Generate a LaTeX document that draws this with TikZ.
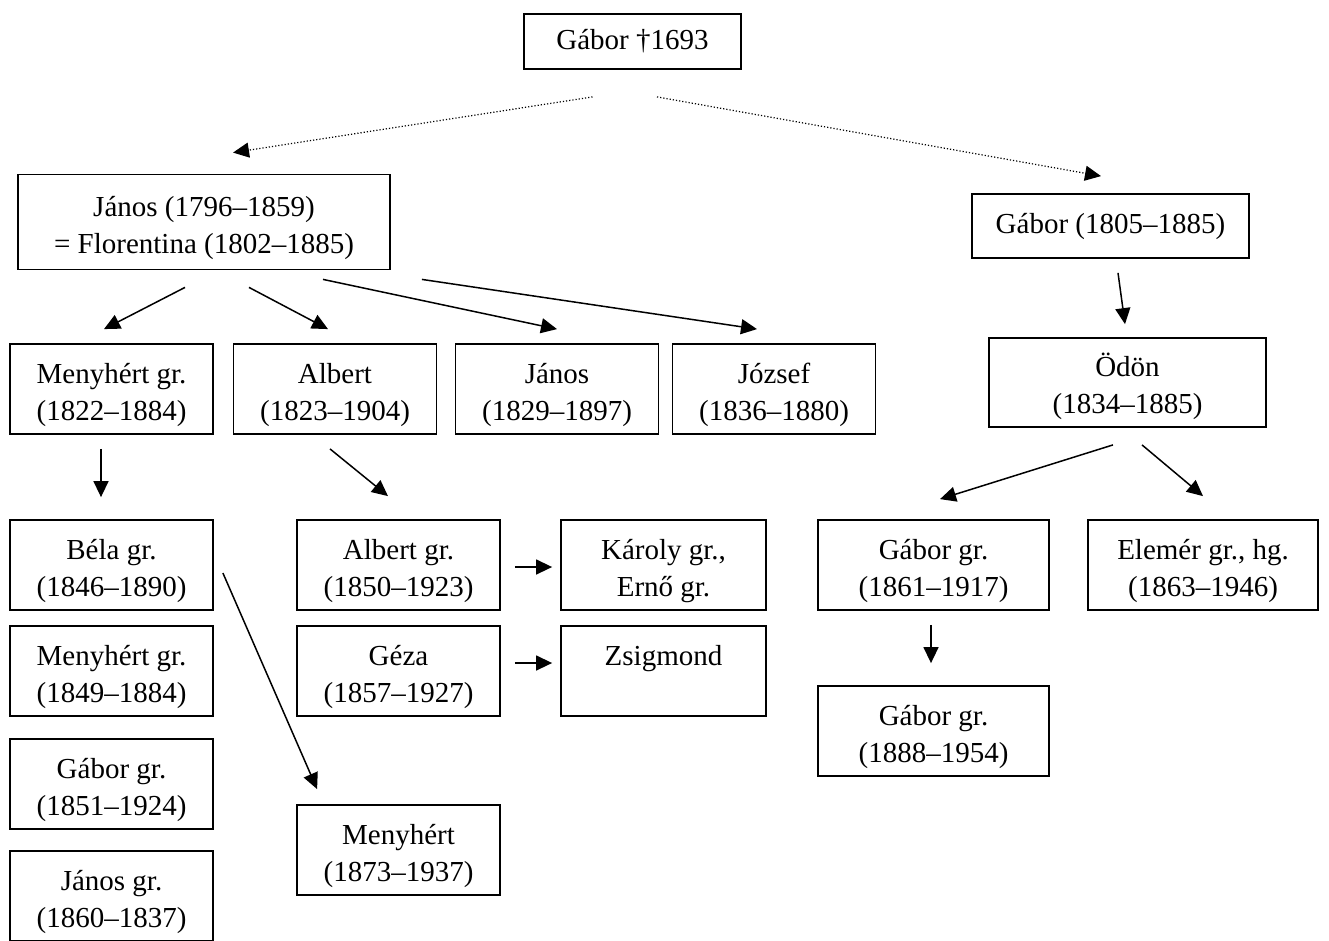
\documentclass[tikz,border=0pt]{standalone}
\usepackage{fontspec}
\setmainfont{Liberation Serif}
\usetikzlibrary{arrows.meta}
\tikzset{
  person/.style={draw, line width=1.8pt, align=center, inner sep=0pt,
    minimum width=203, minimum height=90, font=\fontsize{29}{37}\selectfont},
  pair/.style={person, text height=62pt, text depth=0pt},
  child/.style={line width=1.5pt, -{Triangle[length=16pt,width=15pt]}},
  branch/.style={line width=1.2pt, dotted, -{Triangle[length=16pt,width=15pt]}}
}

\begin{document}
\begin{tikzpicture}[x=1pt, y=-1pt]
\useasboundingbox (0,0) rectangle (1329,940);
% Ancestor and sons
    \node[person, minimum width=217, minimum height=55] (top) at (632.5,41.5) {Gábor †1693};
    \node[pair, minimum width=372, minimum height=95] (janos) at (204,222) {János (1796–1859)\\= Florentina (1802–1885)};
    \node[person, minimum width=277, minimum height=64] (gabor2) at (1110.5,226) {Gábor (1805–1885)};
% Grandsons
    \node[pair] (menyhert) at (111.5,389) {Menyhért gr.\\(1822–1884)};
    \node[pair] (albert) at (335,389) {Albert\\(1823–1904)};
    \node[pair] (janos2) at (557,389) {János\\(1829–1897)};
    \node[pair] (jozsef) at (774,389) {József\\(1836–1880)};
    \node[pair, minimum width=277, minimum height=89] (odon) at (1127.5,382.5) {Ödön\\(1834–1885)};
% Great-grandsons
    \node[pair] (bela) at (111.5,565) {Béla gr.\\(1846–1890)};
    \node[pair] (menyhert2) at (111.5,671) {Menyhért gr.\\(1849–1884)};
    \node[pair] (gabor3) at (111.5,784) {Gábor gr.\\(1851–1924)};
    \node[pair] (janos3) at (111.5,896) {János gr.\\(1860–1837)};
    \node[pair] (albert2) at (398.5,565) {Albert gr.\\(1850–1923)};
    \node[pair] (geza) at (398.5,671) {Géza\\(1857–1927)};
    \node[pair, minimum width=205] (karoly) at (663.5,565) {Károly gr.,\\Ernő gr.};
    \node[pair, minimum width=205] (zsigmond) at (663.5,671) {Zsigmond\\~};
    \node[pair] (menyhert3) at (398.5,850) {Menyhért\\(1873–1937)};
    \node[pair, minimum width=231] (gabor4) at (933.5,565) {Gábor gr.\\(1861–1917)};
    \node[pair, minimum width=230] (elemer) at (1203,565) {Elemér gr., hg.\\(1863–1946)};
    \node[pair, minimum width=231] (gabor5) at (933.5,731) {Gábor gr.\\(1888–1954)};
% Dotted branches
    \draw[branch] ([shift={(-40,27)}]top.south) -- ([shift={(29,-21)}]janos.north);
    \draw[branch] ([shift={(24.5,27)}]top.south) -- ([shift={(-9.5,-17)}]gabor2.north);
% Descent
    \draw[child] ([shift={(-19,17)}]janos.south) -- ([shift={(-7.5,-14)}]menyhert.north);
    \draw[child] ([shift={(45,17)}]janos.south) -- ([shift={(-7,-14)}]albert.north);
    \draw[child] ([shift={(119,9)}]janos.south) -- ([shift={(0,-14)}]janos2.north);
    \draw[child] ([shift={(31,9)}]janos.south east) -- ([shift={(-17,-14)}]jozsef.north);
    \draw[child] ([shift={(7.5,14)}]gabor2.south) -- ([shift={(-2.5,-13)}]odon.north);
    \draw[child] ([shift={(-10.5,14)}]menyhert.south) -- ([shift={(-10.5,-22)}]bela.north);
    \draw[child] ([shift={(-5,14)}]albert.south) -- ([shift={(-10.5,-23)}]albert2.north);
    \draw[child] ([shift={(9,8)}]bela.east) -- ([shift={(21,-15)}]menyhert3.north west);
    \draw[child] ([shift={(14,2)}]albert2.east) -- ([shift={(-8,2)}]karoly.west);
    \draw[child] ([shift={(14,-8)}]geza.east) -- ([shift={(-8,-8)}]zsigmond.west);
    \draw[child] ([shift={(-14.5,17)}]odon.south) -- ([shift={(6.5,-20)}]gabor4.north);
    \draw[child] ([shift={(14.5,17)}]odon.south) -- ([shift={(0,-23)}]elemer.north);
    \draw[child] ([shift={(-2.5,14)}]gabor4.south) -- ([shift={(-2.5,-22)}]gabor5.north);
\end{tikzpicture}
\end{document}
